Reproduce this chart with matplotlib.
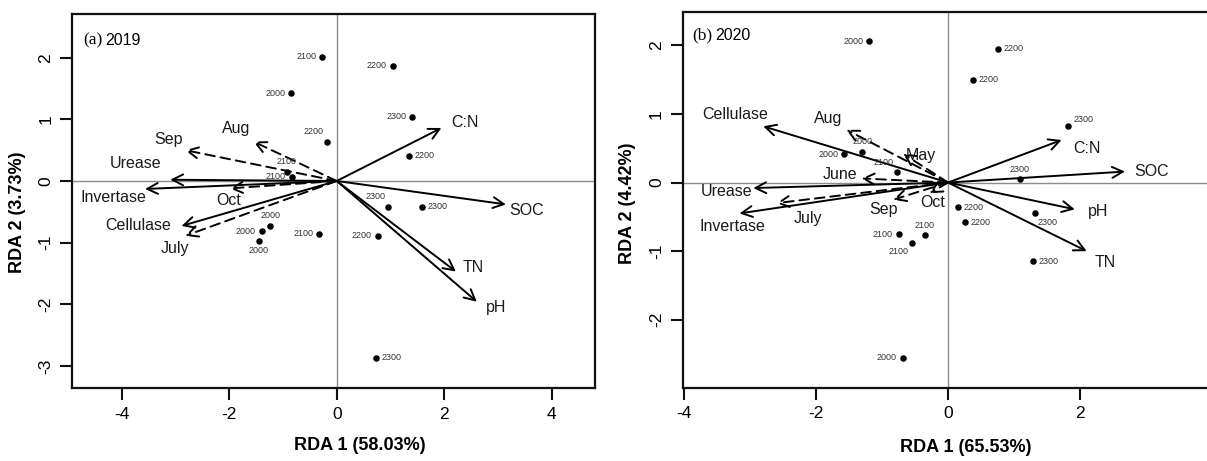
import matplotlib
matplotlib.use("Agg")
import matplotlib.pyplot as plt

plt.rcParams['font.family'] = ['Liberation Sans', 'DejaVu Sans']
plt.rcParams['axes.unicode_minus'] = False

# ---------------- data: panel (a) 2019 ----------------
a_env_names = ["C:N", "SOC", "TN", "pH", "Urease", "Invertase", "Cellulase"]
a_env_x = [1.95, 3.15, 2.22, 2.61, -3.10, -3.57, -2.89]
a_env_y = [0.86, -0.38, -1.47, -1.96, 0.02, -0.13, -0.73]

a_month_names = ["Sep", "Aug", "Oct", "July"]
a_month_x = [-2.82, -1.55, -1.99, -2.82]
a_month_y = [0.50, 0.64, -0.12, -0.89]

a_site_labels = ["2100", "2200", "2000", "2300", "2200", "2200", "2100", "2100",
                 "2000", "2000", "2000", "2100", "2300", "2300", "2200", "2300"]
a_site_x = [-0.28, 1.04, -0.85, 1.41, -0.19, 1.35, -0.93, -0.84,
            -1.24, -1.40, -1.45, -0.33, 0.96, 1.58, 0.76, 0.74]
a_site_y = [2.02, 1.87, 1.42, 1.04, 0.64, 0.41, 0.15, 0.07,
            -0.73, -0.82, -0.97, -0.86, -0.42, -0.42, -0.89, -2.87]

# ---------------- data: panel (b) 2020 ----------------
b_env_names = ["C:N", "SOC", "pH", "TN", "Cellulase", "Urease", "Invertase"]
b_env_x = [1.72, 2.68, 1.92, 2.10, -2.80, -2.95, -3.16]
b_env_y = [0.62, 0.16, -0.39, -1.00, 0.82, -0.08, -0.45]

b_month_names = ["Aug", "May", "June", "July", "Sep", "Oct"]
b_month_x = [-1.54, -0.68, -1.31, -2.60, -0.83, -0.28]
b_month_y = [0.77, 0.42, 0.06, -0.30, -0.25, -0.155]

b_site_labels = ["2000", "2200", "2200", "2300", "2300", "2000", "2000", "2100",
                 "2200", "2200", "2300", "2300", "2100", "2100", "2100", "2000"]
b_site_x = [-1.20, 0.75, 0.38, 1.82, 1.09, -1.58, -1.30, -0.78,
            0.15, 0.25, 1.31, 1.29, -0.75, -0.55, -0.35, -0.69]
b_site_y = [2.06, 1.95, 1.50, 0.82, 0.05, 0.41, 0.45, 0.15,
            -0.36, -0.58, -0.45, -1.15, -0.75, -0.875, -0.77, -2.55]

# ---------------- styling (label offsets in points) ----------------
a_env_off = [(17, 4), (15, -4.6), (12.7, 3), (14, -4), (-25, 11.5), (-23, -5.8), (-31, 0)]
a_month_off = [(-12, 7.7), (-12.5, 9.6), (-1.2, -8.4), (-7.2, -8.9)]
a_site_side = ["l", "l", "l", "l", "tl", "r", "t", "l",
               "t", "l", "b", "l", "tl", "r", "l", "r"]

b_env_off = [(18, -6), (19, 0), (16.6, -1.7), (13.2, -7.9), (-20.4, 8.4), (-19.2, -2.4), (-4.8, -9.1)]
b_month_off = [(-13.2, 8.4), (13, -1.5), (-15.6, 3.1), (22.7, -10.8), (-7.2, -6.7), (2.4, -6.8)]
b_site_side = ["l", "r", "r", "tr", "t", "l", "t", "tl",
               "r", "r", "br", "r", "l", "bl", "t", "l"]

side_map = {
    "l": (-4, 0, "right", "center"),
    "r": (4, 0, "left", "center"),
    "t": (0, 4, "center", "bottom"),
    "b": (0, -4, "center", "top"),
    "tl": (-2, 4, "right", "bottom"),
    "tr": (4, 2, "left", "bottom"),
    "bl": (-2, -3, "right", "top"),
    "br": (2, -3, "left", "top"),
}

DPI = 100
fig = plt.figure(figsize=(12.07, 4.61), dpi=DPI)
W, H = 1207.0, 461.0


def make_axes(px_left, px_right, px_top, px_bottom):
    return fig.add_axes([px_left / W, 1 - px_bottom / H,
                         (px_right - px_left) / W, (px_bottom - px_top) / H])


def draw_panel(ax, env_names, env_x, env_y, env_off,
               mon_names, mon_x, mon_y, mon_off,
               site_labels, site_x, site_y, site_side):
    ax.axhline(0, color="#8c8c8c", lw=1.0, zorder=1)
    ax.axvline(0, color="#8c8c8c", lw=1.0, zorder=1)
    arrow_style = "->,head_length=0.55,head_width=0.28"
    for name, x, y, off in zip(env_names, env_x, env_y, env_off):
        ax.annotate("", xy=(x, y), xytext=(0, 0),
                    arrowprops=dict(arrowstyle=arrow_style, lw=1.4, color="black",
                                    shrinkA=0, shrinkB=0, mutation_scale=14),
                    zorder=3)
        ax.annotate(name, xy=(x, y), xytext=off, textcoords="offset points",
                    ha="center", va="center", fontsize=11.5, color="#1a1a1a")
    for name, x, y, off in zip(mon_names, mon_x, mon_y, mon_off):
        ax.annotate("", xy=(x, y), xytext=(0, 0),
                    arrowprops=dict(arrowstyle=arrow_style, lw=1.4, color="black",
                                    linestyle=(0, (5, 3)),
                                    shrinkA=0, shrinkB=0, mutation_scale=14),
                    zorder=3)
        ax.annotate(name, xy=(x, y), xytext=off, textcoords="offset points",
                    ha="center", va="center", fontsize=11.5, color="#1a1a1a")
    ax.scatter(site_x, site_y, s=22, color="black", zorder=4, linewidths=0)
    for lab, x, y, side in zip(site_labels, site_x, site_y, site_side):
        dx, dy, ha, va = side_map[side]
        ax.annotate(lab, xy=(x, y), xytext=(dx, dy), textcoords="offset points",
                    ha=ha, va=va, fontsize=6.5, color="#333333")
    for sp in ax.spines.values():
        sp.set_linewidth(1.6)
        sp.set_color("#111111")
    ax.tick_params(axis="both", direction="out", length=8.5, width=1.5,
                   labelsize=12.5, pad=5, color="#111111")
    for lbl in ax.get_yticklabels():
        lbl.set_rotation(90)
        lbl.set_va("center")


# ---------------- panel (a) ----------------
ax1 = make_axes(72, 595, 14, 388)
ax1.set_xlim(-4.93, 4.81)
ax1.set_ylim(-3.36, 2.71)
ax1.set_xticks([-4, -2, 0, 2, 4])
ax1.set_yticks([-3, -2, -1, 0, 1, 2])
draw_panel(ax1, a_env_names, a_env_x, a_env_y, a_env_off,
           a_month_names, a_month_x, a_month_y, a_month_off,
           a_site_labels, a_site_x, a_site_y, a_site_side)
ax1.set_xlabel("RDA 1 (58.03%)", fontsize=13, fontweight="bold", va="center")
ax1.xaxis.set_label_coords(0.55, -0.155)
ax1.set_ylabel("RDA 2 (3.73%)", fontsize=13, fontweight="bold", va="center")
ax1.yaxis.set_label_coords(-0.105, 0.47)
ax1.text(0.021, 0.93, "(a)", transform=ax1.transAxes, fontsize=12.5,
         family=["Liberation Serif", "DejaVu Serif"], ha="left", va="center")
ax1.text(0.064, 0.93, "2019", transform=ax1.transAxes, fontsize=11.5,
         ha="left", va="center")

# ---------------- panel (b) ----------------
ax2 = make_axes(682.7, 1231.9, 11.7, 387.7)
ax2.set_xlim(-4.02, 4.3)
ax2.set_ylim(-2.99, 2.49)
ax2.set_xticks([-4, -2, 0, 2])
ax2.set_yticks([-2, -1, 0, 1, 2])
draw_panel(ax2, b_env_names, b_env_x, b_env_y, b_env_off,
           b_month_names, b_month_x, b_month_y, b_month_off,
           b_site_labels, b_site_x, b_site_y, b_site_side)
ax2.set_xlabel("RDA 1 (65.53%)", fontsize=13, fontweight="bold", va="center")
ax2.xaxis.set_label_coords(0.516, -0.158)
ax2.set_ylabel("RDA 2 (4.42%)", fontsize=13, fontweight="bold", va="center")
ax2.yaxis.set_label_coords(-0.0996, 0.49)
ax2.text(0.017, 0.938, "(b)", transform=ax2.transAxes, fontsize=12.5,
         family=["Liberation Serif", "DejaVu Serif"], ha="left", va="center")
ax2.text(0.060, 0.938, "2020", transform=ax2.transAxes, fontsize=11.5,
         ha="left", va="center")

fig.savefig("out.png", dpi=DPI)
